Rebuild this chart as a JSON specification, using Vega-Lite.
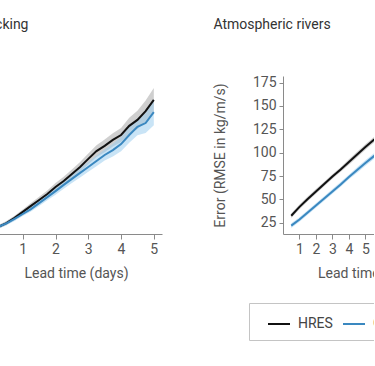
{
  "$schema": "https://vega.github.io/schema/vega-lite/v6.json",
  "padding": {"left": -80, "top": 17, "right": -82, "bottom": 0},
  "autosize": {"type": "pad"},
  "config": {
    "font": "Roboto",
    "view": {"stroke": null},
    "axis": {"domainColor": "#8a8a8a", "tickColor": "#8a8a8a", "labelColor": "#555555", "titleColor": "#555555", "labelFontSize": 14, "titleFontSize": 14, "titleFontWeight": "normal", "grid": false, "tickSize": 4, "labelPadding": 3},
    "axisX": {"titlePadding": 10, "tickSize": 5},
    "axisY": {"titlePadding": 25},
    "title": {"fontSize": 14, "fontWeight": "normal", "color": "#333333", "anchor": "start", "frame": "bounds", "offset": 44}
  },
  "data": {"values": [
    {"p":"C","m":"HRES","d":0.25,"v":20,"h":5},{"p":"C","m":"HRES","d":0.5,"v":31,"h":6},{"p":"C","m":"HRES","d":0.75,"v":46,"h":6},{"p":"C","m":"HRES","d":1,"v":63,"h":7},{"p":"C","m":"HRES","d":1.25,"v":80,"h":8},{"p":"C","m":"HRES","d":1.5,"v":97,"h":9},{"p":"C","m":"HRES","d":1.75,"v":114,"h":10},{"p":"C","m":"HRES","d":2,"v":134,"h":11},{"p":"C","m":"HRES","d":2.25,"v":151,"h":12},{"p":"C","m":"HRES","d":2.5,"v":171,"h":13},{"p":"C","m":"HRES","d":2.75,"v":191,"h":14},{"p":"C","m":"HRES","d":3,"v":214,"h":15},{"p":"C","m":"HRES","d":3.25,"v":236,"h":17},{"p":"C","m":"HRES","d":3.5,"v":251,"h":18},{"p":"C","m":"HRES","d":3.75,"v":268,"h":19},{"p":"C","m":"HRES","d":4,"v":282,"h":20},{"p":"C","m":"HRES","d":4.25,"v":308,"h":23},{"p":"C","m":"HRES","d":4.5,"v":325,"h":26},{"p":"C","m":"HRES","d":4.75,"v":350,"h":30},{"p":"C","m":"HRES","d":5,"v":382,"h":34},
    {"p":"C","m":"GraphCast","d":0.25,"v":20,"h":5},{"p":"C","m":"GraphCast","d":0.5,"v":30,"h":5},{"p":"C","m":"GraphCast","d":0.75,"v":43,"h":6},{"p":"C","m":"GraphCast","d":1,"v":57,"h":6},{"p":"C","m":"GraphCast","d":1.25,"v":71,"h":7},{"p":"C","m":"GraphCast","d":1.5,"v":88,"h":8},{"p":"C","m":"GraphCast","d":1.75,"v":105,"h":9},{"p":"C","m":"GraphCast","d":2,"v":122,"h":10},{"p":"C","m":"GraphCast","d":2.25,"v":140,"h":11},{"p":"C","m":"GraphCast","d":2.5,"v":157,"h":12},{"p":"C","m":"GraphCast","d":2.75,"v":174,"h":13},{"p":"C","m":"GraphCast","d":3,"v":191,"h":14},{"p":"C","m":"GraphCast","d":3.25,"v":208,"h":15},{"p":"C","m":"GraphCast","d":3.5,"v":225,"h":16},{"p":"C","m":"GraphCast","d":3.75,"v":239,"h":18},{"p":"C","m":"GraphCast","d":4,"v":256,"h":20},{"p":"C","m":"GraphCast","d":4.25,"v":282,"h":22},{"p":"C","m":"GraphCast","d":4.5,"v":305,"h":24},{"p":"C","m":"GraphCast","d":4.75,"v":316,"h":28},{"p":"C","m":"GraphCast","d":5,"v":347,"h":37},
    {"p":"A","m":"HRES","d":0.5,"v":32.5,"h":2.5},{"p":"A","m":"HRES","d":1,"v":42,"h":2.5},{"p":"A","m":"HRES","d":1.5,"v":50.5,"h":2.5},{"p":"A","m":"HRES","d":2,"v":58.5,"h":2.5},{"p":"A","m":"HRES","d":2.5,"v":66.5,"h":2.5},{"p":"A","m":"HRES","d":3,"v":74.5,"h":2.5},{"p":"A","m":"HRES","d":3.5,"v":82,"h":2.5},{"p":"A","m":"HRES","d":4,"v":90,"h":3},{"p":"A","m":"HRES","d":4.5,"v":98,"h":3},{"p":"A","m":"HRES","d":5,"v":106,"h":3},{"p":"A","m":"HRES","d":5.5,"v":113.5,"h":3},{"p":"A","m":"HRES","d":6,"v":121,"h":3},{"p":"A","m":"HRES","d":6.5,"v":128,"h":3},{"p":"A","m":"HRES","d":7,"v":135,"h":3.5},{"p":"A","m":"HRES","d":7.5,"v":142,"h":3.5},{"p":"A","m":"HRES","d":8,"v":148.5,"h":3.5},{"p":"A","m":"HRES","d":8.5,"v":155,"h":3.5},{"p":"A","m":"HRES","d":9,"v":161,"h":4},{"p":"A","m":"HRES","d":9.5,"v":167,"h":4},{"p":"A","m":"HRES","d":10,"v":173,"h":4},
    {"p":"A","m":"GraphCast","d":0.5,"v":22,"h":2.5},{"p":"A","m":"GraphCast","d":1,"v":28.5,"h":2.5},{"p":"A","m":"GraphCast","d":1.5,"v":36,"h":2.5},{"p":"A","m":"GraphCast","d":2,"v":43.5,"h":2.5},{"p":"A","m":"GraphCast","d":2.5,"v":51,"h":2.5},{"p":"A","m":"GraphCast","d":3,"v":58.5,"h":2.5},{"p":"A","m":"GraphCast","d":3.5,"v":66,"h":2.5},{"p":"A","m":"GraphCast","d":4,"v":74,"h":2.5},{"p":"A","m":"GraphCast","d":4.5,"v":81.5,"h":3},{"p":"A","m":"GraphCast","d":5,"v":89,"h":3},{"p":"A","m":"GraphCast","d":5.5,"v":96,"h":3},{"p":"A","m":"GraphCast","d":6,"v":103,"h":3},{"p":"A","m":"GraphCast","d":6.5,"v":110,"h":3},{"p":"A","m":"GraphCast","d":7,"v":117,"h":3},{"p":"A","m":"GraphCast","d":7.5,"v":123.5,"h":3.5},{"p":"A","m":"GraphCast","d":8,"v":130,"h":3.5},{"p":"A","m":"GraphCast","d":8.5,"v":136,"h":3.5},{"p":"A","m":"GraphCast","d":9,"v":142,"h":3.5},{"p":"A","m":"GraphCast","d":9.5,"v":148,"h":4},{"p":"A","m":"GraphCast","d":10,"v":154,"h":4}
  ]},
  "transform": [
    {"calculate": "datum.v - datum.h", "as": "lo"},
    {"calculate": "datum.v + datum.h", "as": "hi"}
  ],
  "spacing": 51,
  "hconcat": [
    {
      "title": {"text": "Cyclone tracking", "dx": 5},
      "width": 172,
      "height": 158,
      "transform": [{"filter": "datum.p == 'C'"}],
      "encoding": {
        "x": {"field": "d", "type": "quantitative", "scale": {"domain": [0, 5.25], "nice": false}, "axis": {"values": [1, 2, 3, 4, 5], "title": "Lead time (days)"}},
        "y": {"type": "quantitative", "scale": {"domain": [0, 450], "nice": false}, "axis": {"values": [100, 200, 300, 400], "title": "Track error (km)"}}
      },
      "layer": [
        {"mark": {"type": "area", "opacity": 0.55}, "encoding": {"y": {"field": "lo", "type": "quantitative"}, "y2": {"field": "hi"}, "detail": {"field": "m"}, "fill": {"condition": {"test": "datum.m == 'HRES'", "value": "#a8a8a8"}, "value": "#9ccdee"}}},
        {"mark": {"type": "line", "strokeWidth": 2}, "encoding": {"y": {"field": "v", "type": "quantitative"}, "color": {"field": "m", "type": "nominal", "sort": null, "scale": {"domain": ["HRES", "GraphCast"], "range": ["#111111", "#3a88c0"]}, "legend": {"orient": "none", "legendX": 259, "legendY": 227, "direction": "horizontal", "title": null, "symbolType": "stroke", "symbolSize": 484, "symbolStrokeWidth": 2, "labelFontSize": 14, "labelColor": "#444444", "strokeColor": "#c4c4c4", "fillColor": "white", "padding": 9, "symbolOffset": 9, "labelOffset": 7, "columnPadding": 0}}}}
      ]
    },
    {
      "title": "Atmospheric rivers",
      "width": 173,
      "height": 158,
      "transform": [{"filter": "datum.p == 'A'"}],
      "encoding": {
        "x": {"field": "d", "type": "quantitative", "scale": {"domain": [0, 10.5], "nice": false}, "axis": {"values": [1, 2, 3, 4, 5, 6, 7, 8, 9, 10], "title": "Lead time (days)"}},
        "y": {"type": "quantitative", "scale": {"domain": [13, 182], "nice": false, "zero": false}, "axis": {"values": [25, 50, 75, 100, 125, 150, 175], "title": "Error (RMSE in kg/m/s)"}}
      },
      "layer": [
        {"mark": {"type": "area", "opacity": 0.55}, "encoding": {"y": {"field": "lo", "type": "quantitative"}, "y2": {"field": "hi"}, "detail": {"field": "m"}, "fill": {"condition": {"test": "datum.m == 'HRES'", "value": "#a8a8a8"}, "value": "#9ccdee"}}},
        {"mark": {"type": "line", "strokeWidth": 2}, "encoding": {"y": {"field": "v", "type": "quantitative"}, "color": {"field": "m", "type": "nominal", "sort": null, "scale": {"domain": ["HRES", "GraphCast"], "range": ["#111111", "#3a88c0"]}, "legend": {"orient": "none", "legendX": 259, "legendY": 227, "direction": "horizontal", "title": null, "symbolType": "stroke", "symbolSize": 484, "symbolStrokeWidth": 2, "labelFontSize": 14, "labelColor": "#444444", "strokeColor": "#c4c4c4", "fillColor": "white", "padding": 9, "symbolOffset": 9, "labelOffset": 7, "columnPadding": 0}}}}
      ]
    }
  ]
}
